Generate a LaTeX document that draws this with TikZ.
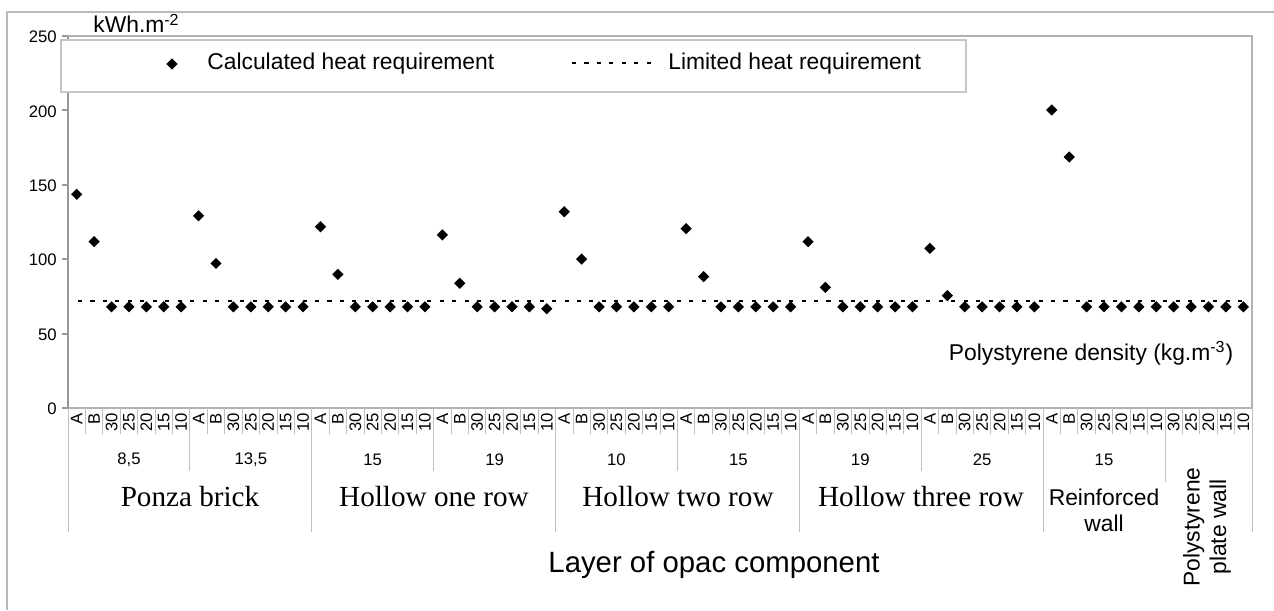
\documentclass[tikz,border=0pt]{standalone}
\usepackage{fontspec}
\setmainfont{Liberation Sans}
\newfontfamily\catserif{Liberation Serif}
\usetikzlibrary{shapes.geometric}

\begin{document}
\begin{tikzpicture}[x=0.02cm, y=-0.02cm,
    outerline/.style={draw=gray!55, line width=0.6pt},
    plotline/.style={draw=gray!60, line width=1.1pt},
    axisline/.style={draw=gray!80, line width=1.2pt},
    sepline/.style={draw=gray!50, line width=0.5pt},
    datapt/.style={diamond, fill=black, inner sep=0pt, minimum size=0.23cm},
    limitline/.style={line width=1pt, dash pattern=on 2.3pt off 4.8pt},
    catlab/.style={font=\fontsize{9.5}{10}\selectfont, rotate=90, anchor=east, inner sep=0pt},
    midlab/.style={font=\fontsize{9.5}{11}\selectfont, inner sep=0pt},
    toplab/.style={font=\catserif\fontsize{16.6}{18}\selectfont, inner sep=0pt},
    biglab/.style={font=\fontsize{13}{15}\selectfont, inner sep=0pt}]
    \useasboundingbox (0,0) rectangle (1274,610);
    % outer frame
    \draw[outerline] (7,610) -- (7,12) -- (1274,12);
    % plot area
    \draw[plotline] (68,36) -- (1252,36) -- (1252,408) -- (68,408);
    \draw[axisline] (68,36) -- (68,408);
    \foreach \v in {0,50,...,250} {
      \draw[axisline] (62,{408-1.488*\v}) -- (68,{408-1.488*\v});
      \node[font=\fontsize{9.5}{10}\selectfont, anchor=east, inner sep=0pt] (y\v) at (57,{409-1.488*\v}) {\v};
    }
    \node[biglab, anchor=south west] (unit) at (93,33) {kWh.m\textsuperscript{-2}};
    % category separators
    \foreach \i in {0,...,68}
      \draw[sepline] ({68+\i*17.412},408) -- ({68+\i*17.412},434);
    \foreach \i in {7,21,35,49}
      \draw[sepline] ({68+\i*17.412},408) -- ({68+\i*17.412},471);
    \draw[sepline] ({68+63*17.412},408) -- ({68+63*17.412},482);
    \foreach \i in {0,14,28,42,56,68}
      \draw[sepline] ({68+\i*17.412},408) -- ({68+\i*17.412},532);
    % category labels
    \foreach \g in {0,...,8}
      \foreach [count=\k] \t in {A,B,30,25,20,15,10}
        \node[catlab] (c\g-\k) at ({68+(\g*7+\k-0.5)*17.412},413) {\t};
    \foreach [count=\k] \t in {30,25,20,15,10}
      \node[catlab] (c9-\k) at ({68+(63+\k-0.5)*17.412},413) {\t};
    \foreach [count=\g] \t in {{8,5},{13,5},15,19,10,15,19,25,15}
      \node[midlab] (m\g) at ({68+(\g-0.5)*121.884},460) {\t};
    \node[toplab] (ponza) at (190,497) {Ponza brick};
    \node[toplab] (hone) at (434,497) {Hollow one row};
    \node[toplab] (htwo) at (678,497) {Hollow two row};
    \node[toplab] (hthree) at (921,497) {Hollow three row};
    \node[biglab, align=center] (reinf) at (1104,510) {Reinforced\\wall};
    \node[biglab, align=center, rotate=90] (plate) at (1207,527) {Polystyrene\\plate wall};
    \node[font=\fontsize{16.7}{18}\selectfont, inner sep=0pt] (xtitle) at (714,565) {Layer of opac component};
    \node[biglab] (density) at (1091,353) {Polystyrene density (kg.m\textsuperscript{-3})};
    % limited heat requirement
    \coordinate (lim0) at (78,{408-1.488*72});
    \coordinate (lim1) at (1250,{408-1.488*72});
    \draw[limitline] (lim0) -- (lim1);
    % calculated heat requirement
    \foreach [count=\i] \v in {143.6,111.8,68,68,68,68,68,
                               129.2,97.2,68,68,68,68,68,
                               121.8,89.8,68,68,68,68,68,
                               116.3,83.8,68,68,68,68,66.7,
                               131.9,100.1,68,68,68,68,68,
                               120.5,88.3,68,68,68,68,68,
                               111.8,81.1,68,68,68,68,68,
                               107.3,75.5,68,68,68,68,68,
                               200.3,168.7,68,68,68,68,68,
                               68,68,68,68,68}
      \node[datapt] (d\i) at ({68+(\i-0.5)*17.412},{408-1.488*\v}) {};
    % legend
    \draw[draw=gray!45, fill=white, line width=0.6pt] (61,40) rectangle (966,92);
    \node[datapt] (legpt) at (172,64) {};
    \node[biglab, anchor=west] (legcalc) at (207,64) {Calculated heat requirement};
    \coordinate (leg0) at (572,63);
    \coordinate (leg1) at (658,63);
    \draw[limitline] (leg0) -- (leg1);
    \node[biglab, anchor=west] (leglim) at (668,64) {Limited heat requirement};
\end{tikzpicture}
\end{document}
